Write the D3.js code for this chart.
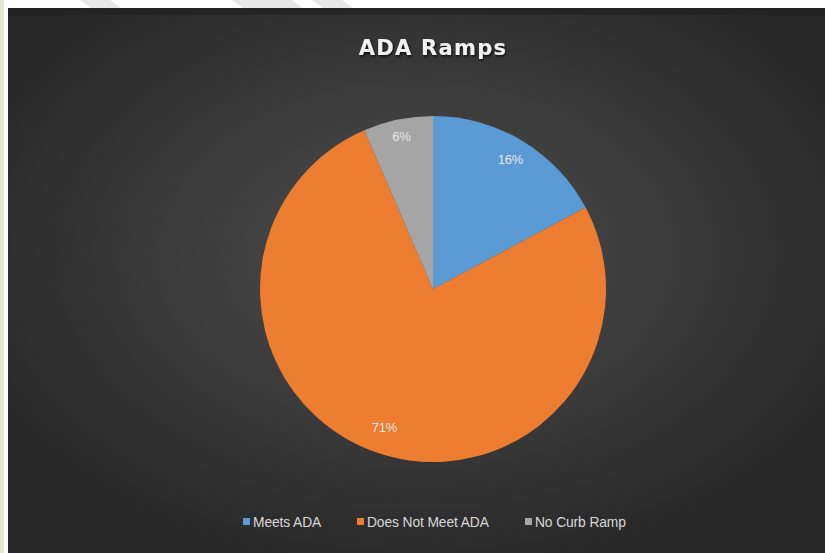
<!DOCTYPE html>
<html><head><meta charset="utf-8">
<script src="https://cdn.jsdelivr.net/npm/d3@7"></script>
<style>html,body{margin:0;padding:0;background:#fff;}svg{display:block;}</style>
</head><body>
<svg id="c" width="825" height="553"></svg>
<script>
const categories = ["Meets ADA", "Does Not Meet ADA", "No Curb Ramp"];
const values = [17.2, 76.3, 6.5];
const labels = ["16%", "71%", "6%"];
const colors = ["#5b9bd5", "#ed7d31", "#a5a5a5"];
const title = "ADA Ramps";

const svg = d3.select("#c");
const W = 825, H = 553;
const defs = svg.append("defs");
const rg = defs.append("radialGradient").attr("id","bg").attr("cx","50%").attr("cy","45%").attr("r","62%");
rg.append("stop").attr("offset","0%").attr("stop-color","#4f4f4f");
rg.append("stop").attr("offset","100%").attr("stop-color","#262626");
const f = defs.append("filter").attr("id","sh").attr("x","-10%").attr("y","-30%").attr("width","120%").attr("height","160%");
f.append("feDropShadow").attr("dx",1).attr("dy",1.5).attr("stdDeviation",1).attr("flood-color","#000").attr("flood-opacity",0.8);

// page background
svg.append("rect").attr("width",W).attr("height",H).attr("fill","#fff");
svg.append("rect").attr("x",0).attr("y",0).attr("width",4).attr("height",H).attr("fill","#e3e9d5");
const stripes = [80, 232, 262, 312];
stripes.forEach(x=>{
  svg.append("path").attr("d",`M${x},0 L${x+30},0 L${x+42},9 L${x+12},9 Z`).attr("fill","#e8e8e8");
});
// chart area
const cx0 = 8, cy0 = 8;
svg.append("rect").attr("x",cx0).attr("y",cy0).attr("width",W-cx0).attr("height",H-cy0).attr("fill","url(#bg)");
svg.append("rect").attr("x",cx0).attr("y",cy0).attr("width",W-cx0).attr("height",7).attr("fill","#1f1f1f").attr("opacity",0.6);

// title
svg.append("text").attr("x",433).attr("y",55).attr("text-anchor","middle")
  .attr("font-family","DejaVu Sans").attr("font-weight","bold").attr("font-size",21)
  .attr("letter-spacing",1.3).attr("fill","#f2f2f2").attr("filter","url(#sh)").text(title);

// pie
const cx = 433, cy = 289, R = 173;
const pie = d3.pie().sort(null).value(d=>d);
const arcs = pie(values);
const arc = d3.arc().innerRadius(0).outerRadius(R);
const labR = [0.87, 0.85, 0.9];
const g = svg.append("g").attr("transform",`translate(${cx},${cy})`);
g.selectAll("path").data(arcs).join("path").attr("d",arc).attr("fill",(d,i)=>colors[i]);
g.selectAll("text").data(arcs).join("text")
  .attr("transform",(d,i)=>`translate(${d3.arc().innerRadius(R*labR[i]).outerRadius(R*labR[i]).centroid(d)})`)
  .attr("text-anchor","middle").attr("dy","0.35em")
  .attr("font-family","Liberation Sans").attr("font-size",13).attr("letter-spacing",-0.2)
  .attr("fill","#e6e6e6").text((d,i)=>labels[i]);

// legend
const legX = [243, 357, 525];
const lg = svg.append("g");
categories.forEach((c,i)=>{
  lg.append("rect").attr("x",legX[i]).attr("y",518).attr("width",7).attr("height",7).attr("fill",colors[i]);
  lg.append("text").attr("x",legX[i]+10).attr("y",527).attr("font-family","Liberation Sans").attr("font-size",13.8)
    .attr("letter-spacing",-0.1).attr("fill","#d9d9d9").text(c);
});
</script>
</body></html>
